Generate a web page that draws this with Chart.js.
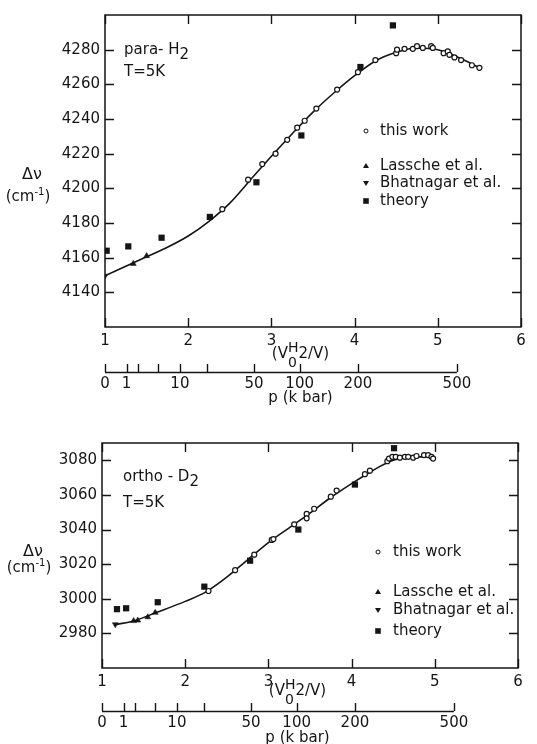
<!DOCTYPE html>
<html>
<head>
<meta charset="utf-8">
<script src="https://cdn.jsdelivr.net/npm/chart.js@4.4.1/dist/chart.umd.min.js"></script>
<style>
  html, body { margin: 0; padding: 0; background: #fff; }
  #wrap { position: relative; width: 537px; height: 744px; overflow: hidden; }
  canvas { position: absolute; left: 0; }
</style>
</head>
<body>
<div id="wrap">
  <canvas id="h2Chart" width="537" height="410" style="top:0"></canvas>
  <canvas id="d2Chart" width="537" height="334" style="top:410px"></canvas>
</div>
<script>
// compression axis (V0/V) and pressure scale below it
const ratioTicks = [1, 2, 3, 4, 5, 6];
const pressureTicks = [0, 1, 2, 5, 10, 20, 50, 100, 200, 500];
const pressureAtRatio = [1.0, 1.26, 1.4, 1.64, 1.9, 2.23, 2.79, 3.34, 4.04, 5.23];
const pressureLabels = ['0', '1', '', '', '10', '', '50', '100', '200', '500'];
const legendLabels = ['this work', 'Lassche et al.', 'Bhatnagar et al.', 'theory'];

// para-H2
const h2YTicks = [4140, 4160, 4180, 4200, 4220, 4240, 4260, 4280];
const h2WorkX = [2.41, 2.72, 2.89, 3.05, 3.19, 3.31, 3.40, 3.54, 3.79, 4.04, 4.25, 4.50, 4.51, 4.60, 4.70, 4.75, 4.82, 4.92, 4.94, 5.07, 5.12, 5.14, 5.20, 5.28, 5.41, 5.50];
const h2WorkY = [4188, 4205, 4214, 4220, 4228, 4235, 4239, 4246, 4257, 4267, 4274, 4278, 4280, 4280.5, 4280.5, 4282, 4281, 4282, 4281, 4278, 4279, 4277, 4275.5, 4274, 4271, 4269.5];
const h2LasscheX = [1.34, 1.50];
const h2LasscheY = [4156.5, 4161];
const h2BhatX = [1.0];
const h2BhatY = [4149.5];
const h2TheoryX = [1.02, 1.28, 1.68, 2.26, 2.82, 3.36, 4.07, 4.46];
const h2TheoryY = [4164, 4166.5, 4171.5, 4183.5, 4203.5, 4230.5, 4270, 4294];
const h2FitX = [1.0, 1.25, 1.5, 1.75, 2.0, 2.25, 2.5, 2.75, 3.0, 3.25, 3.5, 3.75, 4.0, 4.25, 4.5, 4.75, 5.0, 5.25, 5.5];
const h2FitY = [4149.5, 4155, 4160.5, 4166, 4172.5, 4181, 4191.5, 4205, 4218.5, 4231.5, 4244, 4255, 4265, 4273.5, 4278.5, 4281, 4280, 4275.5, 4269.5];

// ortho-D2
const d2YTicks = [2980, 3000, 3020, 3040, 3060, 3080];
const d2WorkX = [2.28, 2.60, 2.83, 3.04, 3.06, 3.31, 3.46, 3.46, 3.55, 3.75, 3.82, 4.16, 4.22, 4.43, 4.45, 4.49, 4.53, 4.58, 4.64, 4.68, 4.74, 4.78, 4.87, 4.92, 4.96, 4.98];
const d2WorkY = [3004.5, 3016.5, 3025.5, 3034, 3034.5, 3043, 3049, 3046.5, 3052, 3059, 3062.5, 3072, 3074, 3079.5, 3081, 3082, 3082, 3081.5, 3082, 3082, 3081.5, 3082.5, 3083, 3083, 3082, 3081];
const d2LasscheX = [1.38, 1.43, 1.55, 1.64];
const d2LasscheY = [2987.2, 2987.5, 2989.4, 2992];
const d2BhatX = [1.16];
const d2BhatY = [2985.2];
const d2TheoryX = [1.18, 1.29, 1.67, 2.23, 2.78, 3.36, 4.04, 4.51];
const d2TheoryY = [2994, 2994.5, 2998, 3007, 3022, 3040, 3066, 3087];
const d2FitX = [1.16, 1.4, 1.65, 2.0, 2.25, 2.5, 2.75, 3.0, 3.25, 3.5, 3.75, 4.0, 4.25, 4.5, 4.75, 4.98];
const d2FitY = [2985, 2987.5, 2992, 2998.5, 3004, 3012.5, 3022.5, 3032.5, 3041, 3049.5, 3058.5, 3066.5, 3074, 3080, 3082, 3082];

const FONT = '"DejaVu Sans", "Liberation Sans", sans-serif';
const INK = '#151515';

function pairs(xs, ys) {
  return xs.map((x, i) => ({ x: x, y: ys[i] }));
}

function font(size) {
  return size + 'px ' + FONT;
}

// draws a row of text pieces; piece {t, s, dy, stay} (stay = pen does not move)
function drawRuns(ctx, runs, x, y, align) {
  let w = 0;
  runs.forEach(r => {
    ctx.font = font(r.s || 15);
    r.w = ctx.measureText(r.t).width;
    if (!r.stay) w += r.w;
  });
  let px = align === 'center' ? x - w / 2 : x;
  ctx.textBaseline = 'middle';
  ctx.textAlign = 'left';
  runs.forEach(r => {
    ctx.font = font(r.s || 15);
    ctx.fillText(r.t, px, y + (r.dy || 0));
    if (!r.stay) px += r.w;
  });
}

function legendMark(ctx, kind, x, y) {
  ctx.beginPath();
  if (kind === 0) {
    ctx.arc(x, y, 2, 0, Math.PI * 2);
    ctx.fillStyle = '#fff';
    ctx.fill();
    ctx.lineWidth = 1;
    ctx.stroke();
    ctx.fillStyle = INK;
    return;
  }
  if (kind === 1) {
    ctx.moveTo(x, y - 3); ctx.lineTo(x + 3, y + 2); ctx.lineTo(x - 3, y + 2);
  } else if (kind === 2) {
    ctx.moveTo(x, y + 3); ctx.lineTo(x + 3, y - 2); ctx.lineTo(x - 3, y - 2);
  } else {
    ctx.rect(x - 2.8, y - 2.8, 5.6, 5.6);
  }
  ctx.closePath();
  ctx.fill();
}

function decor(p) {
  return {
    id: 'decor',
    afterDraw(chart) {
      const ctx = chart.ctx;
      const a = chart.chartArea;
      const xs = chart.scales.x;
      const ys = chart.scales.y;
      ctx.save();
      ctx.strokeStyle = INK;
      ctx.fillStyle = INK;

      // frame with inward ticks
      ctx.lineWidth = 1.5;
      ctx.strokeRect(a.left, a.top, a.right - a.left, a.bottom - a.top);
      ctx.lineWidth = 1.4;
      ctx.beginPath();
      ratioTicks.forEach(v => {
        const px = Math.round(xs.getPixelForValue(v)) + 0.5;
        ctx.moveTo(px, a.bottom); ctx.lineTo(px, a.bottom - 9);
        ctx.moveTo(px, a.top); ctx.lineTo(px, a.top + 9);
      });
      p.yTicks.forEach(v => {
        const py = Math.round(ys.getPixelForValue(v)) + 0.5;
        ctx.moveTo(a.left, py); ctx.lineTo(a.left + 9, py);
        ctx.moveTo(a.right, py); ctx.lineTo(a.right - 9, py);
      });
      ctx.stroke();

      // sample name
      drawRuns(ctx, p.name, a.left + p.nameDx, a.top + p.nameDy, 'left');
      drawRuns(ctx, [{ t: 'T=5K' }], a.left + p.nameDx, a.top + p.tDy, 'left');

      // y title
      drawRuns(ctx, [{ t: 'Δν', s: 16 }], p.yTitleX, a.top + p.yTitleDy, 'center');
      drawRuns(ctx, [{ t: '(cm' }, { t: '-1', s: 10, dy: -5 }, { t: ')' }], p.yTitleX - 4, a.top + p.yTitleDy + p.yUnitGap, 'center');

      // compression label
      const cx = xs.getPixelForValue(3.35);
      drawRuns(ctx, [
        { t: '(V' },
        { t: '0', s: 14, dy: 9, stay: true },
        { t: 'H', s: 14, dy: -6 },
        { t: '2/V)' }
      ], cx, a.bottom + p.vDy, 'center');

      // pressure axis
      const ly = a.bottom + p.pDy;
      const x0 = xs.getPixelForValue(pressureAtRatio[0]);
      const x1 = xs.getPixelForValue(pressureAtRatio[pressureAtRatio.length - 1]);
      ctx.lineWidth = 1.4;
      ctx.beginPath();
      ctx.moveTo(x0, ly + 0.5); ctx.lineTo(x1, ly + 0.5);
      pressureAtRatio.forEach(v => {
        const px = Math.round(xs.getPixelForValue(v)) + 0.5;
        ctx.moveTo(px, ly); ctx.lineTo(px, ly - 8);
      });
      ctx.stroke();
      ctx.font = font(15);
      ctx.textAlign = 'center';
      ctx.textBaseline = 'middle';
      pressureTicks.forEach((v, i) => {
        if (pressureLabels[i]) ctx.fillText(pressureLabels[i], xs.getPixelForValue(pressureAtRatio[i]), ly + 12);
      });
      drawRuns(ctx, [{ t: 'p (k bar)' }], xs.getPixelForValue(3.35), ly + p.pTitleGap, 'center');

      // legend
      legendLabels.forEach((lab, i) => {
        const y = a.top + p.legRows[i];
        legendMark(ctx, i, a.right - p.legMarkDx, y);
        drawRuns(ctx, [{ t: lab }], a.right - p.legTextDx, y, 'left');
      });
      ctx.restore();
    }
  };
}

function buildChart(id, p) {
  return new Chart(document.getElementById(id), {
    type: 'scatter',
    data: {
      datasets: [
        { label: 'this work', data: pairs(p.workX, p.workY), pointStyle: 'circle', pointRadius: 2.5,
          pointBackgroundColor: '#fff', pointBorderColor: INK, pointBorderWidth: 1.2, order: 1 },
        { label: 'Lassche et al.', data: pairs(p.lassX, p.lassY), pointStyle: 'triangle', pointRadius: 3.4,
          pointBackgroundColor: INK, pointBorderColor: INK, pointBorderWidth: 0.5, order: 2 },
        { label: 'Bhatnagar et al.', data: pairs(p.bhatX, p.bhatY), pointStyle: 'triangle', pointRotation: 180,
          pointRadius: 3.4, pointBackgroundColor: INK, pointBorderColor: INK, pointBorderWidth: 0.5, order: 3 },
        { label: 'theory', data: pairs(p.theoX, p.theoY), pointStyle: 'rect', pointRadius: 4.4,
          pointBackgroundColor: INK, pointBorderColor: INK, pointBorderWidth: 0, order: 4 },
        { label: 'fit', data: pairs(p.fitX, p.fitY), showLine: true, pointRadius: 0, borderColor: INK,
          borderWidth: 1.6, cubicInterpolationMode: 'monotone', order: 9 }
      ]
    },
    options: {
      responsive: false,
      animation: false,
      devicePixelRatio: 1,
      layout: { padding: { top: p.padTop, right: p.padRight, left: 0, bottom: 0 } },
      plugins: { legend: { display: false }, tooltip: { enabled: false } },
      scales: {
        x: {
          type: 'linear', min: 1, max: 6,
          afterBuildTicks: s => { s.ticks = ratioTicks.map(v => ({ value: v })); },
          afterFit: s => { s.height = p.xAxisH; },
          grid: { display: false, drawTicks: false },
          border: { display: false },
          ticks: { color: INK, font: { family: FONT, size: 15 }, padding: 5, autoSkip: false, maxRotation: 0,
                   callback: v => String(v) }
        },
        y: {
          type: 'linear', min: p.yMin, max: p.yMax,
          afterBuildTicks: s => { s.ticks = p.yTicks.map(v => ({ value: v })); },
          afterFit: s => { s.width = p.yAxisW; },
          grid: { display: false, drawTicks: false },
          border: { display: false },
          ticks: { color: INK, font: { family: FONT, size: 15 }, padding: 5, callback: v => String(v) }
        }
      }
    },
    plugins: [decor(p)]
  });
}

buildChart('h2Chart', {
  workX: h2WorkX, workY: h2WorkY, lassX: h2LasscheX, lassY: h2LasscheY,
  bhatX: h2BhatX, bhatY: h2BhatY, theoX: h2TheoryX, theoY: h2TheoryY,
  fitX: h2FitX, fitY: h2FitY, yTicks: h2YTicks, yMin: 4120, yMax: 4300,
  padTop: 15, padRight: 16, yAxisW: 105, xAxisH: 83,
  name: [{ t: 'para- H' }, { t: '2', dy: 5 }], nameDx: 19, nameDy: 35, tDy: 57,
  yTitleX: 32, yTitleDy: 160, yUnitGap: 22,
  vDy: 27, pDy: 45, pTitleGap: 26,
  legRows: [116, 151, 168, 186], legMarkDx: 155, legTextDx: 141
});

buildChart('d2Chart', {
  workX: d2WorkX, workY: d2WorkY, lassX: d2LasscheX, lassY: d2LasscheY,
  bhatX: d2BhatX, bhatY: d2BhatY, theoX: d2TheoryX, theoY: d2TheoryY,
  fitX: d2FitX, fitY: d2FitY, yTicks: d2YTicks, yMin: 2960, yMax: 3090,
  padTop: 33, padRight: 19, yAxisW: 102, xAxisH: 76,
  name: [{ t: 'ortho - D' }, { t: '2', dy: 5 }], nameDx: 21, nameDy: 34, tDy: 60,
  yTitleX: 33, yTitleDy: 109, yUnitGap: 16,
  vDy: 23, pDy: 43, pTitleGap: 27,
  legRows: [109, 149, 167, 188], legMarkDx: 140, legTextDx: 125
});
</script>
</body>
</html>
